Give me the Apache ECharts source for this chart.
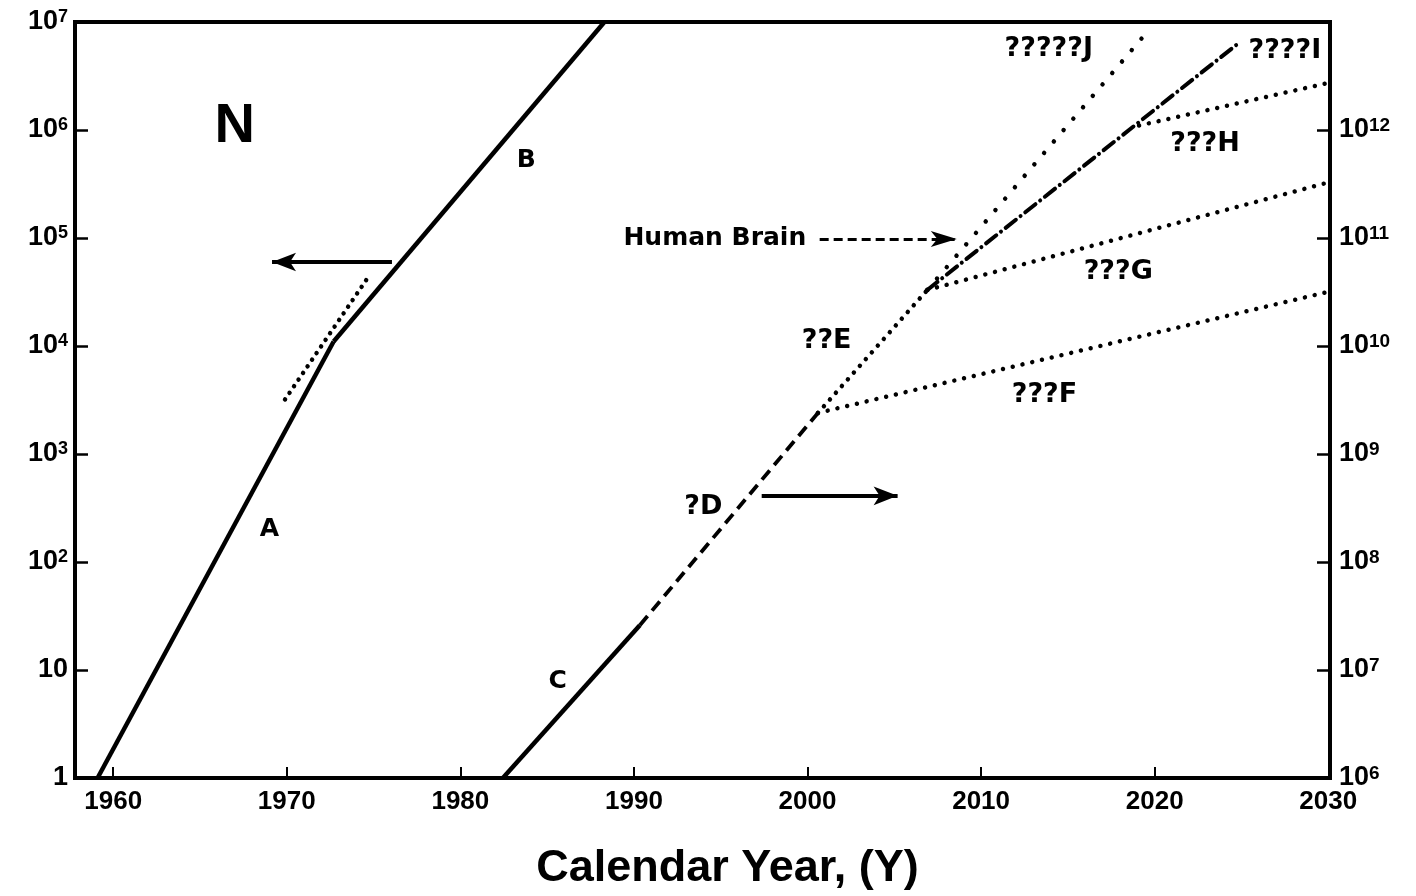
<!DOCTYPE html>
<html><head><meta charset="utf-8">
<script src="https://cdn.jsdelivr.net/npm/echarts@6/dist/echarts.min.js"></script>
<style>html,body{margin:0;padding:0;background:#fff}#c{width:1416px;height:896px}</style>
</head><body><div id="c"></div>
<script>
// ---------- data ----------
const xTickYears = [1960, 1970, 1980, 1990, 2000, 2010, 2020, 2030];
const leftTicks  = [1, 10, 100, 1e3, 1e4, 1e5, 1e6, 1e7];
const rightTicks = [1e6, 1e7, 1e8, 1e9, 1e10, 1e11, 1e12, 1e13];

// left axis (N)
const yearsA = [1959.1, 1972.7];
const valuesA = [1, 11000];
const yearsB = [1972.7, 1988.3];
const valuesB = [11000, 1e7];
const yearsAfit = [1969.9, 1974.8];
const valuesAfit = [3200, 46000];

// right axis
const yearsC = [1982.45, 1990.34];
const valuesC = [1e6, 2.6e7];
const yearsD = [1990.34, 2000.6];
const valuesD = [2.6e7, 2.4e9];
const yearsE = [2000.6, 2006.9];
const valuesE = [2.4e9, 3.3e10];
const yearsF = [2000.6, 2030.1];
const valuesF = [2.4e9, 3.2e10];
const yearsG = [2006.9, 2030.1];
const valuesG = [3.3e10, 3.3e11];
const yearsH = [2019.1, 2030.1];
const valuesH = [1.1e12, 2.75e12];
const yearsI = [2006.9, 2024.9];
const valuesI = [3.3e10, 6.5e12];
const yearsJ = [2006.9, 2019.3];
const valuesJ = [3.3e10, 7.2e12];

// annotations (anchored in left-axis data space)
const annoText  = ['N', 'A', 'B', 'C', '?D', '??E', '???F', '???G', '???H', '????I', '?????J', 'Human Brain'];
const annoYear  = [1967.0, 1969.0, 1983.8, 1985.6, 1994.0, 2001.1, 2013.65, 2017.9, 2022.9, 2027.5, 2013.9, 1994.66];
const annoValue = [1.07e6, 200, 5.2e5, 7.8, 320, 1.12e4, 3500, 4.8e4, 7.5e5, 5.4e6, 5.6e6, 1.0e5];

// arrows in left-axis space
const arrowFromYear = [1976.06, 1997.36, 2000.7];
const arrowToYear   = [1969.15, 2005.19, 2008.6];
const arrowValue    = [6.0e4, 410, 9.8e4];

const xTitle = 'Calendar Year, (Y)';

// ---------- build ----------
const F = "'Liberation Sans', Arial, sans-serif";
const FA = "'DejaVu Sans', 'Liberation Sans', sans-serif";
const zip = (xs, ys) => xs.map((x, i) => [x, ys[i]]);

function expLabel(v, hideTop) {
  const e = Math.round(Math.log10(v));
  if (hideTop && e === hideTop) return '';
  if (e === 0) return '{b|1}';
  if (e === 1) return '{b|10}';
  return '{b|10}{s|' + e + '}';
}
const rich = (supSize) => ({
  b: {fontSize: 27, lineHeight: 28, fontWeight: 'bold', fontFamily: F, color: '#000'},
  s: {fontSize: supSize, lineHeight: 14, verticalAlign: 'top', fontWeight: 'bold', fontFamily: F, color: '#000'}
});

const solid = {color: '#000', width: 4.5, type: 'solid', cap: 'butt'};
const dashed = {color: '#000', width: 3.8, type: [12, 7]};
const dotted = (gap) => ({color: '#000', width: 4.5, type: [0.01, gap], cap: 'round'});
const dashDot = {color: '#000', width: 4, type: [13, 6, 0.01, 6], cap: 'round'};

function lineSeries(name, xs, ys, style, yAxisIndex) {
  return {
    name, type: 'line', data: zip(xs, ys), yAxisIndex,
    showSymbol: false, symbol: 'none', lineStyle: style, silent: true, z: 3
  };
}

const annoData = annoText.map((t, i) => {
  let size = 27;
  if (t === 'N') size = 56;
  if (t === 'Human Brain') size = 25;
  if (t.length === 1 && t !== 'N') size = 25;
  return {
    value: [annoYear[i], annoValue[i]],
    label: {show: true, position: 'inside', formatter: t, fontSize: size, fontWeight: 'bold',
            fontFamily: t === 'N' ? F : FA, color: '#000', opacity: 1}
  };
});

const arrowData = arrowFromYear.map((fy, i) => {
  const isBrain = i === 2;
  return [
    {coord: [fy, arrowValue[i]], lineStyle: isBrain ? {color: '#000', width: 3, type: [9, 5]} : {color: '#000', width: 4, type: 'solid'}},
    {coord: [arrowToYear[i], arrowValue[i]], symbolSize: isBrain ? [12, 26] : [14, 24]}
  ];
});

const option = {
  animation: false,
  backgroundColor: '#fff',
  grid: {left: 75, right: 86, top: 22, bottom: 117, show: true, borderColor: '#000', borderWidth: 4},
  xAxis: {
    type: 'value', min: 1957.8, max: 2030.1,
    axisLine: {show: true, onZero: false, lineStyle: {color: '#000', width: 4}},
    axisTick: {show: true, inside: true, length: 11, lineStyle: {color: '#000', width: 2}, customValues: xTickYears},
    axisLabel: {show: true, margin: 11, fontSize: 26, fontWeight: 'bold', fontFamily: F, color: '#000', customValues: xTickYears,
                formatter: v => String(Math.round(v))},
    splitLine: {show: false},
    name: xTitle, nameLocation: 'middle', nameGap: 68,
    nameTextStyle: {fontSize: 45, fontWeight: 'bold', fontFamily: F, color: '#000', padding: [0, 0, 0, 50]}
  },
  yAxis: [
    {
      type: 'log', logBase: 10, min: 1, max: 1e7, position: 'left',
      axisLine: {show: true, lineStyle: {color: '#000', width: 4}},
      axisTick: {show: true, inside: true, length: 13, lineStyle: {color: '#000', width: 2.5}, customValues: leftTicks},
      axisLabel: {show: true, margin: 7, customValues: leftTicks, formatter: v => expLabel(v), rich: rich(18)},
      splitLine: {show: false}, minorTick: {show: false}
    },
    {
      type: 'log', logBase: 10, min: 1e6, max: 1e13, position: 'right',
      axisLine: {show: true, lineStyle: {color: '#000', width: 4}},
      axisTick: {show: true, inside: true, length: 13, lineStyle: {color: '#000', width: 2.5}, customValues: rightTicks},
      axisLabel: {show: true, margin: 9, customValues: rightTicks, formatter: v => expLabel(v, 13), rich: rich(19)},
      splitLine: {show: false}, minorTick: {show: false}
    }
  ],
  series: [
    lineSeries('A', yearsA, valuesA, solid, 0),
    lineSeries('B', yearsB, valuesB, solid, 0),
    lineSeries('A fit', yearsAfit, valuesAfit, dotted(8), 0),
    lineSeries('C', yearsC, valuesC, solid, 1),
    lineSeries('D', yearsD, valuesD, dashed, 1),
    lineSeries('E', yearsE, valuesE, dotted(9), 1),
    lineSeries('F', yearsF, valuesF, dotted(10), 1),
    lineSeries('G', yearsG, valuesG, dotted(10), 1),
    lineSeries('H', yearsH, valuesH, dotted(10), 1),
    lineSeries('I', yearsI, valuesI, dashDot, 1),
    lineSeries('J', yearsJ, valuesJ, dotted(15), 1),
    {
      name: 'annotations', type: 'scatter', yAxisIndex: 0, symbolSize: 0,
      itemStyle: {color: '#000', opacity: 1}, silent: true, z: 5,
      data: annoData,
      markLine: {
        silent: true, animation: false, symbol: ['none', 'arrow'], symbolSize: [14, 24],
        label: {show: false}, emphasis: {disabled: true},
        lineStyle: {color: '#000', width: 4, type: 'solid'},
        itemStyle: {color: '#000'},
        data: arrowData
      }
    }
  ]
};

const chart = echarts.init(document.getElementById('c'), null, {renderer: 'canvas'});
chart.setOption(option);
</script>
</body></html>
